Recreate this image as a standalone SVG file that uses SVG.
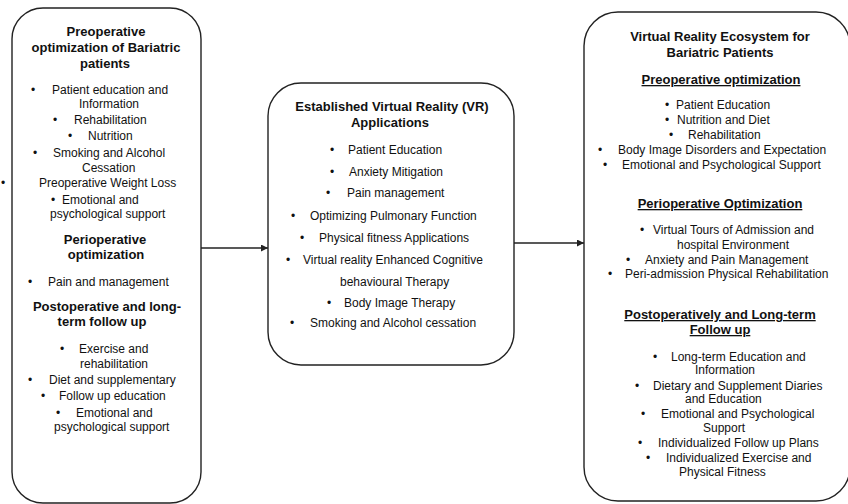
<svg xmlns="http://www.w3.org/2000/svg" width="848" height="504" viewBox="0 0 848 504">
<style>
.box{fill:#fff;stroke:#222;stroke-width:1.4}
text{font-family:"Liberation Sans",Arial,sans-serif;fill:#111}
.t{font-size:12px}
.h{font-size:13px;font-weight:bold;text-anchor:middle}
.u{text-decoration:underline}
.c{text-anchor:middle}
.edge{stroke:#222;stroke-width:1.3;fill:none}
</style>
<defs>
<marker id="arr" viewBox="0 0 10 10" refX="10" refY="5" markerWidth="7" markerHeight="7" markerUnits="userSpaceOnUse" orient="auto">
<path d="M0,0 L10,5 L0,10 z" fill="#222"/>
</marker>
</defs>
<rect width="848" height="504" fill="#fff"/>
<g id="connectors">
<line class="edge" x1="201" y1="248" x2="268" y2="248" marker-end="url(#arr)"/>
<line class="edge" x1="514" y1="243" x2="584" y2="243" marker-end="url(#arr)"/>
</g>
<g id="node-left">
<rect class="box" x="12" y="8" width="189" height="495" rx="31" ry="31"/>
<text class="h" x="106" y="36">Preoperative</text>
<text class="h" x="106" y="52">optimization of Bariatric</text>
<text class="h" x="105" y="68">patients</text>
<text class="t" x="31" y="94">•</text><text class="t" x="52" y="94">Patient education and</text>
<text class="t" x="79" y="108">Information</text>
<text class="t" x="53" y="124">•</text><text class="t" x="74" y="124">Rehabilitation</text>
<text class="t" x="68" y="140">•</text><text class="t" x="88" y="140">Nutrition</text>
<text class="t" x="33" y="157">•</text><text class="t" x="53" y="157">Smoking and Alcohol</text>
<text class="t" x="82" y="172">Cessation</text>
<text class="t" x="1" y="187">•</text><text class="t" x="39" y="187">Preoperative Weight Loss</text>
<text class="t" x="51" y="204">•</text><text class="t" x="62" y="204">Emotional and</text>
<text class="t" x="50" y="218">psychological support</text>
<text class="h" x="105" y="244">Perioperative</text>
<text class="h" x="106" y="259">optimization</text>
<text class="t" x="28" y="286">•</text><text class="t" x="48" y="286">Pain and management</text>
<text class="h" x="107" y="311">Postoperative and long-</text>
<text class="h" x="102" y="326">term follow up</text>
<text class="t" x="60" y="353">•</text><text class="t" x="79" y="353">Exercise and</text>
<text class="t" x="80" y="368">rehabilitation</text>
<text class="t" x="28" y="384">•</text><text class="t" x="49" y="384">Diet and supplementary</text>
<text class="t" x="41" y="400">•</text><text class="t" x="59" y="400">Follow up education</text>
<text class="t" x="56" y="417">•</text><text class="t" x="76" y="417">Emotional and</text>
<text class="t" x="54" y="431">psychological support</text>
</g>
<g id="node-middle">
<rect class="box" x="268" y="83" width="246" height="282" rx="33" ry="33"/>
<text class="h" x="392" y="111">Established Virtual Reality (VR)</text>
<text class="h" x="390" y="127">Applications</text>
<text class="t" x="330" y="154">•</text><text class="t" x="348" y="154">Patient Education</text>
<text class="t" x="330" y="176">•</text><text class="t" x="349" y="176">Anxiety Mitigation</text>
<text class="t" x="326" y="197">•</text><text class="t" x="347" y="197">Pain management</text>
<text class="t" x="291" y="220">•</text><text class="t" x="310" y="220">Optimizing Pulmonary Function</text>
<text class="t" x="300" y="242">•</text><text class="t" x="319" y="242">Physical fitness Applications</text>
<text class="t" x="286" y="264">•</text><text class="t" x="303" y="264">Virtual reality Enhanced Cognitive</text>
<text class="t" x="340" y="286">behavioural Therapy</text>
<text class="t" x="327" y="307">•</text><text class="t" x="344" y="307">Body Image Therapy</text>
<text class="t" x="290" y="327">•</text><text class="t" x="310" y="327">Smoking and Alcohol cessation</text>
</g>
<g id="node-right">
<rect class="box" x="584" y="12" width="266" height="489" rx="34" ry="34"/>
<text class="h" x="720" y="41">Virtual Reality Ecosystem for</text>
<text class="h" x="720" y="57">Bariatric Patients</text>
<text class="h u" x="721" y="84">Preoperative optimization</text>
<text class="t" x="665" y="109">•</text><text class="t" x="676" y="109">Patient Education</text>
<text class="t" x="665" y="124">•</text><text class="t" x="677" y="124">Nutrition and Diet</text>
<text class="t" x="669" y="139">•</text><text class="t" x="688" y="139">Rehabilitation</text>
<text class="t" x="598" y="154">•</text><text class="t" x="618" y="154">Body Image Disorders and Expectation</text>
<text class="t" x="603" y="169">•</text><text class="t" x="622" y="169">Emotional and Psychological Support</text>
<text class="h u" x="720" y="208">Perioperative Optimization</text>
<text class="t" x="640" y="234">•</text><text class="t" x="653" y="234">Virtual Tours of Admission and</text>
<text class="t" x="677" y="249">hospital Environment</text>
<text class="t" x="626" y="264">•</text><text class="t" x="645" y="264">Anxiety and Pain Management</text>
<text class="t" x="608" y="278">•</text><text class="t" x="625" y="278">Peri-admission Physical Rehabilitation</text>
<text class="h u" x="720" y="319">Postoperatively and Long-term</text>
<text class="h u" x="720" y="334">Follow up</text>
<text class="t" x="653" y="361">•</text><text class="t" x="671" y="361">Long-term Education and</text>
<text class="t" x="695" y="374">Information</text>
<text class="t" x="635" y="390">•</text><text class="t" x="653" y="390">Dietary and Supplement Diaries</text>
<text class="t" x="685" y="403">and Education</text>
<text class="t" x="641" y="418">•</text><text class="t" x="661" y="418">Emotional and Psychological</text>
<text class="t" x="703" y="432">Support</text>
<text class="t" x="638" y="447">•</text><text class="t" x="658" y="447">Individualized  Follow up Plans</text>
<text class="t" x="646" y="462">•</text><text class="t" x="666" y="462">Individualized  Exercise and</text>
<text class="t" x="679" y="476">Physical Fitness</text>
</g>
</svg>
